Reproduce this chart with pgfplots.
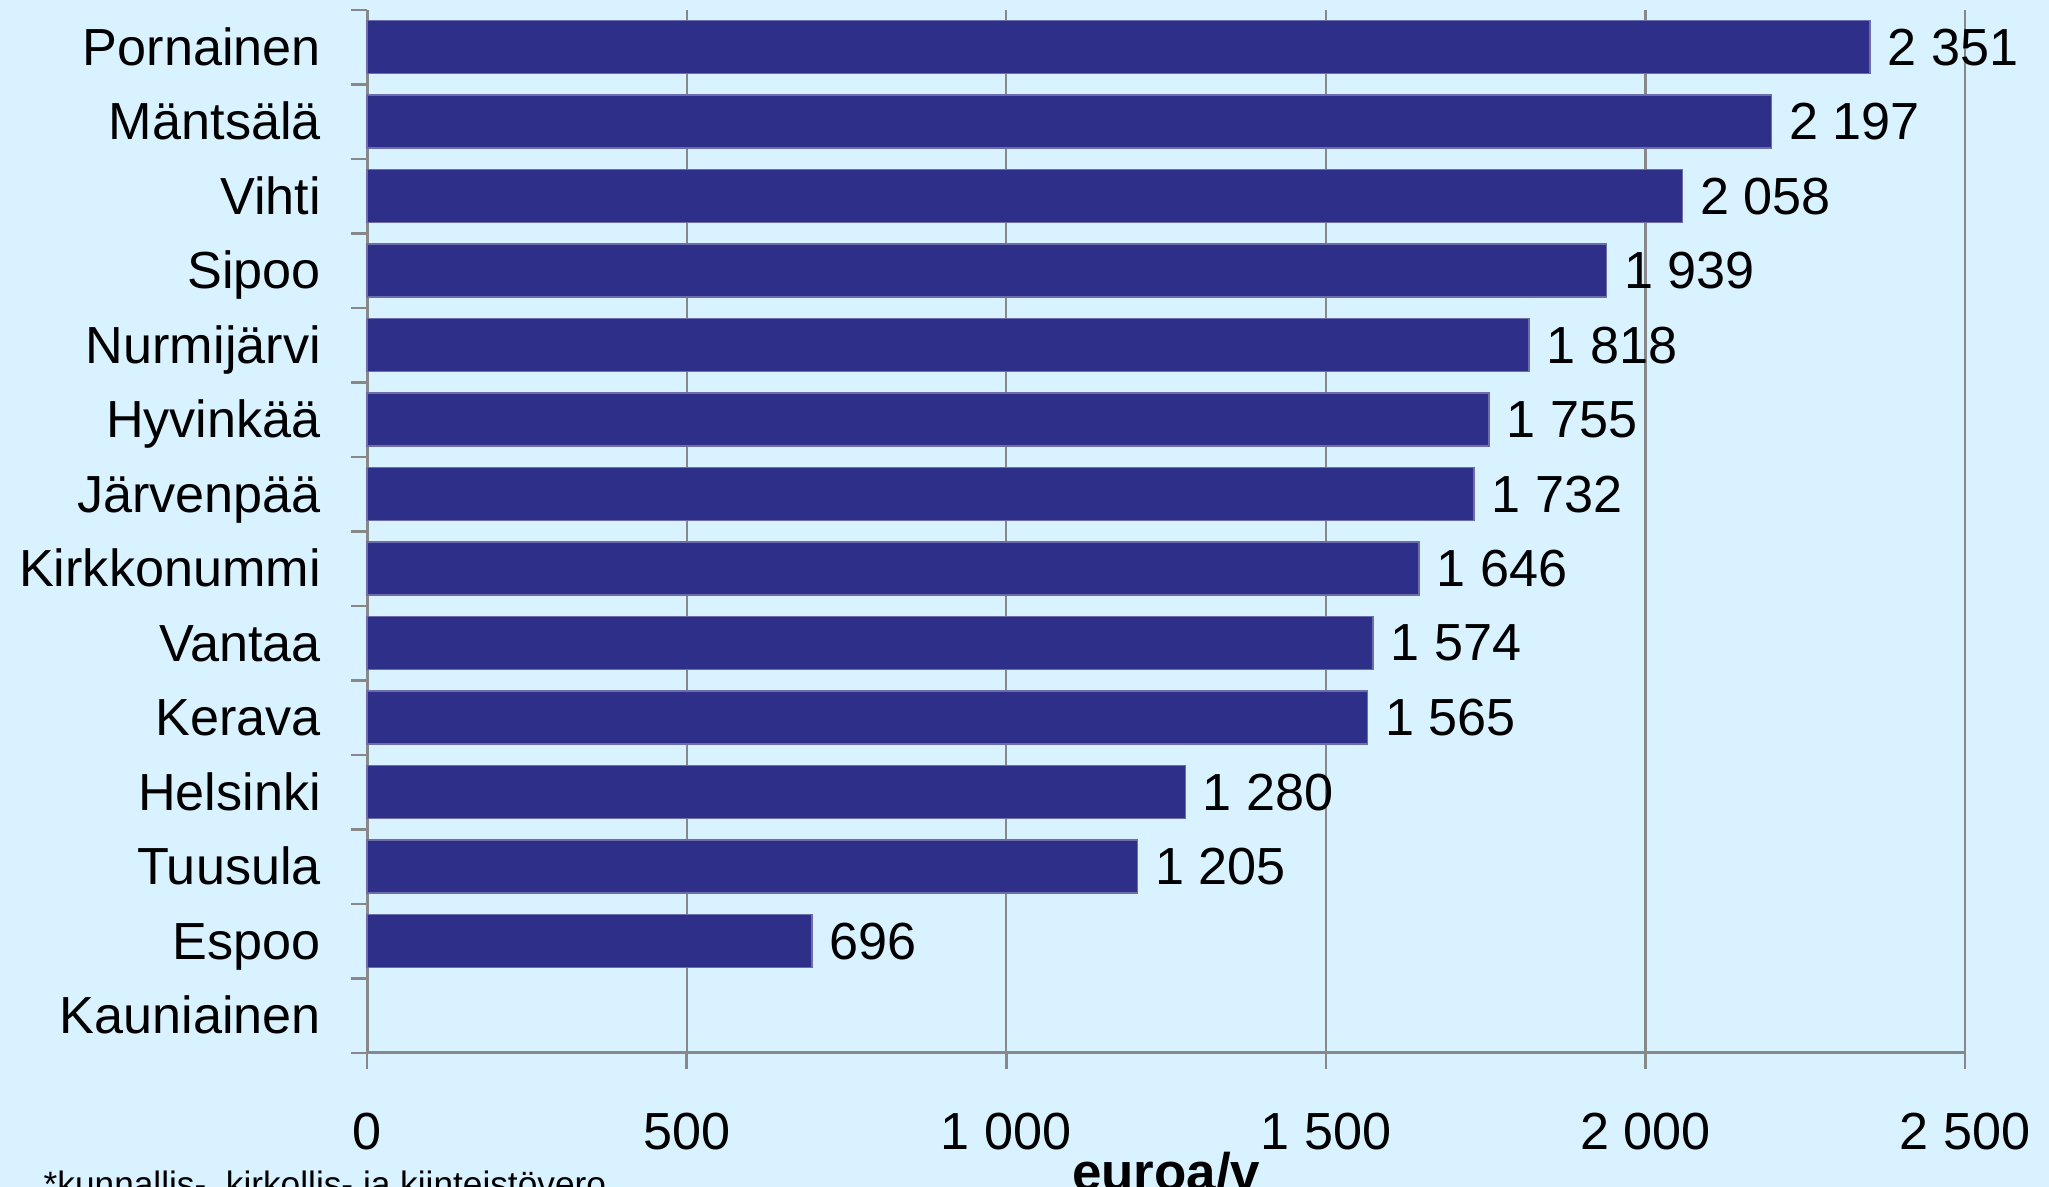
\documentclass[border=0pt]{standalone}
\usepackage{pgfplots}
\pgfplotsset{compat=1.18}
\usepackage{fontspec}
\setmainfont{Liberation Sans}
\definecolor{bg}{RGB}{217,242,255}
\definecolor{barc}{RGB}{46,47,137}
\definecolor{gridc}{RGB}{136,136,136}
\begin{document}
\begin{tikzpicture}
\fill[bg] (0,0) rectangle (581.1pt,336.6pt);
\begin{axis}[
 at={(104.1pt,38.0pt)}, anchor=south west,
 width=453.2pt, height=295.8pt, scale only axis,
 xmin=0, xmax=2500, ymin=-0.5, ymax=13.5,
 clip=false,
 axis x line*=bottom, axis y line*=left,
 axis line style={gridc, line width=0.85pt},
 xtick={0,500,1000,1500,2000,2500},
 xticklabels={0,500,1 000,1 500,2 000,2 500},
 ytick={-0.5,0.5,1.5,2.5,3.5,4.5,5.5,6.5,7.5,8.5,9.5,10.5,11.5,12.5,13.5},
 yticklabels={Kauniainen,Espoo,Tuusula,Helsinki,Kerava,Vantaa,Kirkkonummi,Järvenpää,Hyvinkää,Nurmijärvi,Sipoo,Vihti,Mäntsälä,Pornainen},
 y tick label as interval,
 tick align=outside,
 major tick length=4.5pt,
 tick style={gridc, line width=0.7pt},
 xmajorgrids, major grid style={gridc, line width=0.6pt},
 ticklabel style={font=\fontsize{14.8}{17}\selectfont, black},
 yticklabel style={xshift=-5.1pt, yshift=-1.5pt, text height=0.716em, text depth=0pt},
 xticklabel style={yshift=-8.9pt},
 xlabel={euroa/v},
 xlabel style={font=\bfseries\fontsize{15}{18}\selectfont, at={(axis description cs:0.5,0)}, anchor=base, yshift=-38.9pt},
 xbar, bar width=0.71,
 nodes near coords, point meta=explicit symbolic,
 every node near coord/.append style={font=\fontsize{14.8}{17}\selectfont, black, anchor=west, xshift=1.5pt},
]
\addplot[fill=barc, draw=barc!70!white, line width=0.4pt] coordinates {
 (696,1) [696]
 (1205,2) [1 205]
 (1280,3) [1 280]
 (1565,4) [1 565]
 (1574,5) [1 574]
 (1646,6) [1 646]
 (1732,7) [1 732]
 (1755,8) [1 755]
 (1818,9) [1 818]
 (1939,10) [1 939]
 (2058,11) [2 058]
 (2197,12) [2 197]
 (2351,13) [2 351]
};
\end{axis}
\node[anchor=base west, font=\fontsize{10}{12}\selectfont, inner sep=0pt] at (12.2pt,-2.8pt) {*kunnallis-, kirkollis- ja kiinteistövero};
\pgfresetboundingbox
\useasboundingbox (0,0) rectangle (581.1pt,336.6pt);
\end{tikzpicture}
\end{document}
